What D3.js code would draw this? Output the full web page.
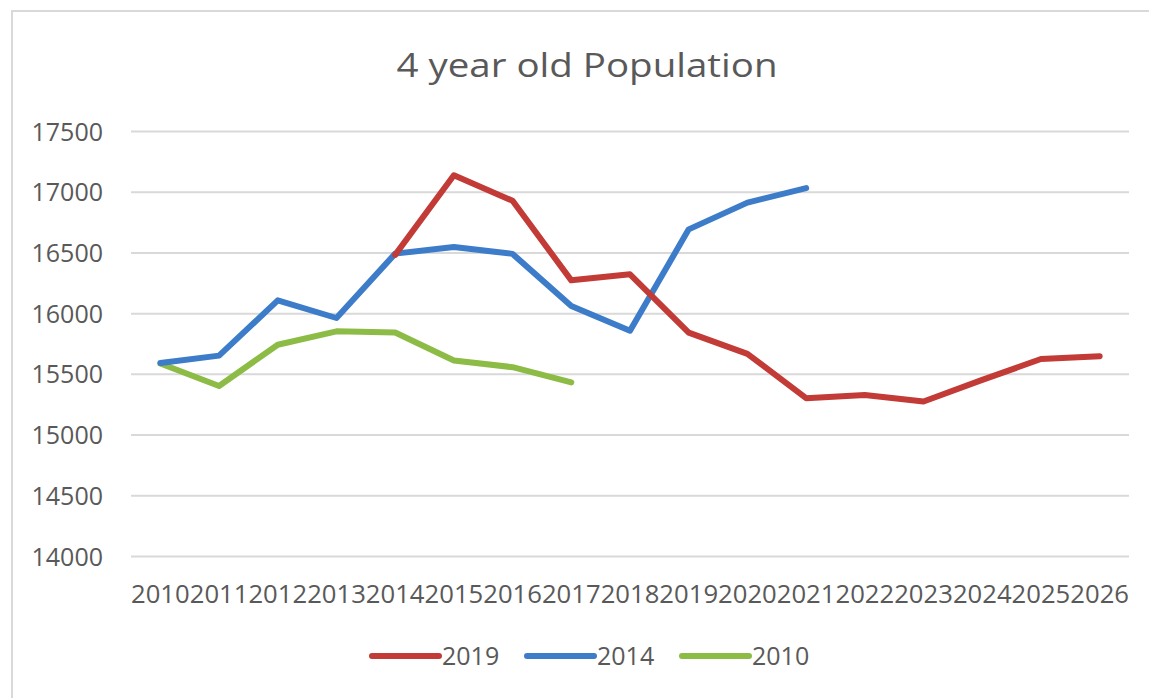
<!DOCTYPE html>
<html>
<head>
<meta charset="utf-8">
<script src="https://cdn.jsdelivr.net/npm/d3@7"></script>
<style>
  body { margin: 0; background: #fff; }
  svg text { font-family: "Open Sans", sans-serif; fill: #595959; }
</style>
</head>
<body>
<svg id="chart" width="1149" height="698"></svg>
<script>
var years = ["2010","2011","2012","2013","2014","2015","2016","2017","2018",
             "2019","2020","2021","2022","2023","2024","2025","2026"];

// one value per year, null where the series has no point
var pop2019 = [null, null, null, null, 16480, 17135, 16925, 16270, 16320,
               15840, 15665, 15300, 15325, 15272, 15450, 15622, 15645];
var pop2014 = [15590, 15650, 16105, 15960, 16490, 16545, 16488, 16058, 15855,
               16690, 16910, 17030, null, null, null, null, null];
var pop2010 = [15585, 15400, 15740, 15850, 15840, 15610, 15555, 15430, null,
               null, null, null, null, null, null, null, null];

var seriesNames = ["2019", "2014", "2010"];
var seriesColors = ["#c23b36", "#3d7cc9", "#8cbc45"];
var yTicks = [14000, 14500, 15000, 15500, 16000, 16500, 17000, 17500];

var series = [pop2019, pop2014, pop2010];

var svg = d3.select("#chart");

// chart border (runs off the right and bottom edges)
svg.append("rect")
    .attr("x", 12).attr("y", 11)
    .attr("width", 1160).attr("height", 700)
    .attr("fill", "none")
    .attr("stroke", "#d9d9d9")
    .attr("stroke-width", 2);

var plotLeft = 131, plotRight = 1129, plotTop = 131, plotBottom = 556;

var x = d3.scaleBand().domain(years).range([plotLeft, plotRight]);
var y = d3.scaleLinear().domain([14000, 17500]).range([plotBottom, plotTop]);

svg.append("text")
    .attr("x", 587).attr("y", 77)
    .attr("text-anchor", "middle")
    .attr("textLength", 381)
    .attr("lengthAdjust", "spacingAndGlyphs")
    .style("font-size", "33px")
    .text("4 year old Population");

// y axis with gridlines
var yAxis = svg.append("g")
    .attr("transform", "translate(" + plotLeft + ",0)")
    .call(d3.axisLeft(y).tickValues(yTicks).tickFormat(d3.format("d"))
            .tickSize(-(plotRight - plotLeft)).tickPadding(28));
yAxis.select(".domain").remove();
yAxis.selectAll(".tick line").attr("stroke", "#d9d9d9").attr("stroke-width", 2);
yAxis.selectAll(".tick text")
    .attr("dy", 9)
    .style("font-size", "25px")
    .style("fill", "#595959");

// x axis labels
var xAxis = svg.append("g")
    .attr("transform", "translate(0," + plotBottom + ")")
    .call(d3.axisBottom(x).tickSize(0));
xAxis.select(".domain").remove();
xAxis.selectAll(".tick text")
    .attr("y", 47).attr("dy", 0)
    .attr("textLength", x.bandwidth())
    .attr("lengthAdjust", "spacingAndGlyphs")
    .style("font-size", "25px")
    .style("fill", "#595959");

var line = d3.line()
    .defined(function(d) { return d != null; })
    .x(function(d, i) { return x(years[i]) + x.bandwidth() / 2; })
    .y(function(d) { return y(d); });

// draw 2010 first so 2019 ends up on top where they cross
for (var i = series.length - 1; i >= 0; i--) {
    svg.append("path")
        .datum(series[i])
        .attr("d", line)
        .attr("fill", "none")
        .attr("stroke", seriesColors[i])
        .attr("stroke-width", 6)
        .attr("stroke-linejoin", "round")
        .attr("stroke-linecap", "round");
}

// legend
var legend = svg.append("g").attr("transform", "translate(372,656)");
for (var i = 0; i < seriesNames.length; i++) {
    var g = legend.append("g").attr("transform", "translate(" + (i * 155) + ",0)");
    g.append("line")
        .attr("x1", 0).attr("x2", 67)
        .attr("stroke", seriesColors[i])
        .attr("stroke-width", 6)
        .attr("stroke-linecap", "round");
    g.append("text")
        .attr("x", 70).attr("y", 9)
        .style("font-size", "25px")
        .text(seriesNames[i]);
}
</script>
</body>
</html>
